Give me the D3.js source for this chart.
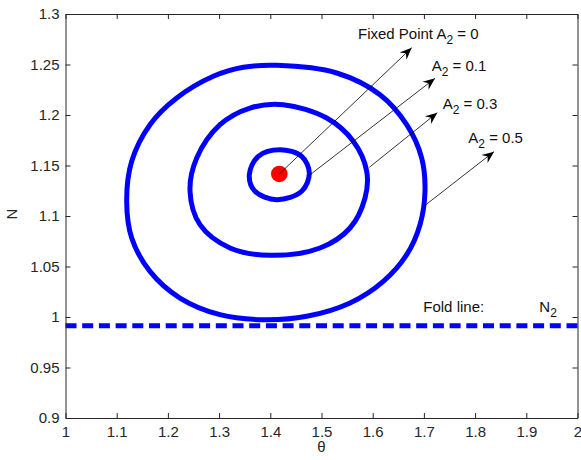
<!DOCTYPE html>
<html><head><meta charset="utf-8">
<script src="https://cdn.jsdelivr.net/npm/d3@7"></script>
<style>
html,body{margin:0;padding:0;background:#fff;}
text{font-family:"Liberation Sans",Arial,sans-serif;}
</style></head>
<body><svg id="c" width="581" height="460"></svg>
<script>
// ---- data ----
const xTicks = [1,1.1,1.2,1.3,1.4,1.5,1.6,1.7,1.8,1.9,2];
const xTickLabels = ["1","1.1","1.2","1.3","1.4","1.5","1.6","1.7","1.8","1.9","2"];
const yTicks = [0.9,0.95,1,1.05,1.1,1.15,1.2,1.25,1.3];
const yTickLabels = ["0.9","0.95","1","1.05","1.1","1.15","1.2","1.25","1.3"];

// orbit A2 = 0.5 (theta, N)
const orbitA05 = [[1.4125,1.2492],[1.5297,1.2416],[1.6143,1.2201],[1.6664,1.1904],[1.6957,1.1574],
  [1.7021,1.1245],[1.6924,1.0914],[1.6664,1.0617],[1.6207,1.0353],[1.5557,1.0139],[1.4711,1.0007],
  [1.3863,0.9973],[1.3018,1.0023],[1.2236,1.0188],[1.1650,1.0452],[1.1293,1.0782],[1.1195,1.1146],
  [1.1293,1.1542],[1.1650,1.1904],[1.2172,1.2168],[1.2887,1.2383],[1.3473,1.2472]];
// orbit A2 = 0.3
const orbitA03 = [[1.4254,1.2102],[1.5102,1.1970],[1.5621,1.1740],[1.5883,1.1443],[1.5850,1.1178],
  [1.5557,1.0881],[1.4971,1.0683],[1.3994,1.0611],[1.3213,1.0683],[1.2627,1.0914],[1.2432,1.1245],
  [1.2563,1.1574],[1.3018,1.1904],[1.3604,1.2069]];
// orbit A2 = 0.1
const orbitA01 = [[1.4189,1.1656],[1.4613,1.1591],[1.4762,1.1426],[1.4613,1.1245],[1.4125,1.1161],
  [1.3701,1.1245],[1.3590,1.1409],[1.3766,1.1591]];
const fixedPoint = [1.4176,1.1416];
const foldLineN = 0.9914;

const annotations = [
  {label:"Fixed Point A", sub:"2", rest:" = 0",   from:[1.4176,1.1416], to:[1.6762,1.2666], text:[1.5713,1.2752]},
  {label:"A", sub:"2", rest:" = 0.1", from:[1.4745,1.1396], to:[1.7217,1.2363], text:[1.7152,1.2439]},
  {label:"A", sub:"2", rest:" = 0.3", from:[1.5934,1.1482], to:[1.7262,1.2023], text:[1.7367,1.2059]},
  {label:"A", sub:"2", rest:" = 0.5", from:[1.6988,1.1092], to:[1.8369,1.1637], text:[1.7867,1.1726]}
];
const foldLabel = {text:"Fold line:", pos:[1.6988,1.0053]};
const n2Label = {label:"N", sub:"2", pos:[1.9254,1.0053]};

// ---- chart ----
const svg = d3.select("#c");
const L=65.5, R=577.5, T=14, B=418;
const x = d3.scaleLinear().domain([1,2]).range([L,R]);
const y = d3.scaleLinear().domain([0.9,1.3]).range([B,T]);
const axisColor="#262626", textColor="#262626";
const FS = 15;

const line = d3.line().x(d=>x(d[0])).y(d=>y(d[1])).curve(d3.curveCatmullRomClosed.alpha(0.5));

// fold line (dashed)
svg.append("line").attr("x1",x(1)).attr("x2",x(2)).attr("y1",y(foldLineN)).attr("y2",y(foldLineN))
  .attr("stroke","#0000ff").attr("stroke-width",5).attr("stroke-dasharray","11,5.7");

[orbitA05,orbitA03,orbitA01].forEach(o=>{
  svg.append("path").attr("d",line(o)).attr("fill","none").attr("stroke","#0000ff").attr("stroke-width",5);
});

svg.append("circle").attr("cx",x(fixedPoint[0])).attr("cy",y(fixedPoint[1])).attr("r",8.3).attr("fill","#ff0000");

// arrows
const defs = svg.append("defs");
defs.append("marker").attr("id","ah").attr("viewBox","-13 -7 15 14").attr("refX",0).attr("refY",0)
  .attr("markerWidth",15).attr("markerHeight",14).attr("markerUnits","userSpaceOnUse").attr("orient","auto")
  .append("path").attr("d","M0,0 L-12,-5 L-8,0 L-12,5 Z").attr("fill","#000");

annotations.forEach(a=>{
  svg.append("line").attr("x1",x(a.from[0])).attr("y1",y(a.from[1])).attr("x2",x(a.to[0])).attr("y2",y(a.to[1]))
    .attr("stroke","#000").attr("stroke-width",0.8).attr("marker-end","url(#ah)");
  const t = svg.append("text").attr("x",x(a.text[0])).attr("y",y(a.text[1])).attr("font-size",FS).attr("fill","#111");
  t.append("tspan").text(a.label);
  t.append("tspan").attr("dy",5).attr("font-size",12).text(a.sub);
  t.append("tspan").attr("dy",-5).text(a.rest);
});

svg.append("text").attr("x",x(foldLabel.pos[0])).attr("y",y(foldLabel.pos[1])).attr("font-size",FS).attr("fill","#111").text(foldLabel.text);
const n2 = svg.append("text").attr("x",x(n2Label.pos[0])).attr("y",y(n2Label.pos[1])).attr("font-size",FS).attr("fill","#111");
n2.append("tspan").text(n2Label.label);
n2.append("tspan").attr("dy",5).attr("font-size",12).text(n2Label.sub);

// axes
const fmtX = (d,i)=>xTickLabels[i], fmtY=(d,i)=>yTickLabels[i];
const gB = svg.append("g").attr("transform",`translate(0,${B})`)
  .call(d3.axisBottom(x).tickValues(xTicks).tickFormat(fmtX).tickSizeInner(-5).tickSizeOuter(0).tickPadding(8));
const gT = svg.append("g").attr("transform",`translate(0,${T})`)
  .call(d3.axisTop(x).tickValues(xTicks).tickFormat("").tickSizeInner(-5).tickSizeOuter(0));
const gL = svg.append("g").attr("transform",`translate(${L},0)`)
  .call(d3.axisLeft(y).tickValues(yTicks).tickFormat(fmtY).tickSizeInner(-5).tickSizeOuter(0).tickPadding(6));
const gR = svg.append("g").attr("transform",`translate(${R},0)`)
  .call(d3.axisRight(y).tickValues(yTicks).tickFormat("").tickSizeInner(-5).tickSizeOuter(0));
[gB,gT,gL,gR].forEach(g=>{
  g.selectAll(".domain").attr("stroke",axisColor).attr("stroke-width",1);
  g.selectAll(".tick line").attr("stroke",axisColor);
  g.selectAll("text").attr("font-size",FS).attr("fill",textColor).attr("font-family","'Liberation Sans',Arial,sans-serif");
});

svg.append("text").attr("x",(L+R)/2).attr("y",452).attr("text-anchor","middle").attr("font-size",FS).attr("fill",textColor).text("θ");
svg.append("text").attr("transform","translate(17,214) rotate(-90)").attr("text-anchor","middle").attr("font-size",FS).attr("fill",textColor).text("N");
</script></body></html>
